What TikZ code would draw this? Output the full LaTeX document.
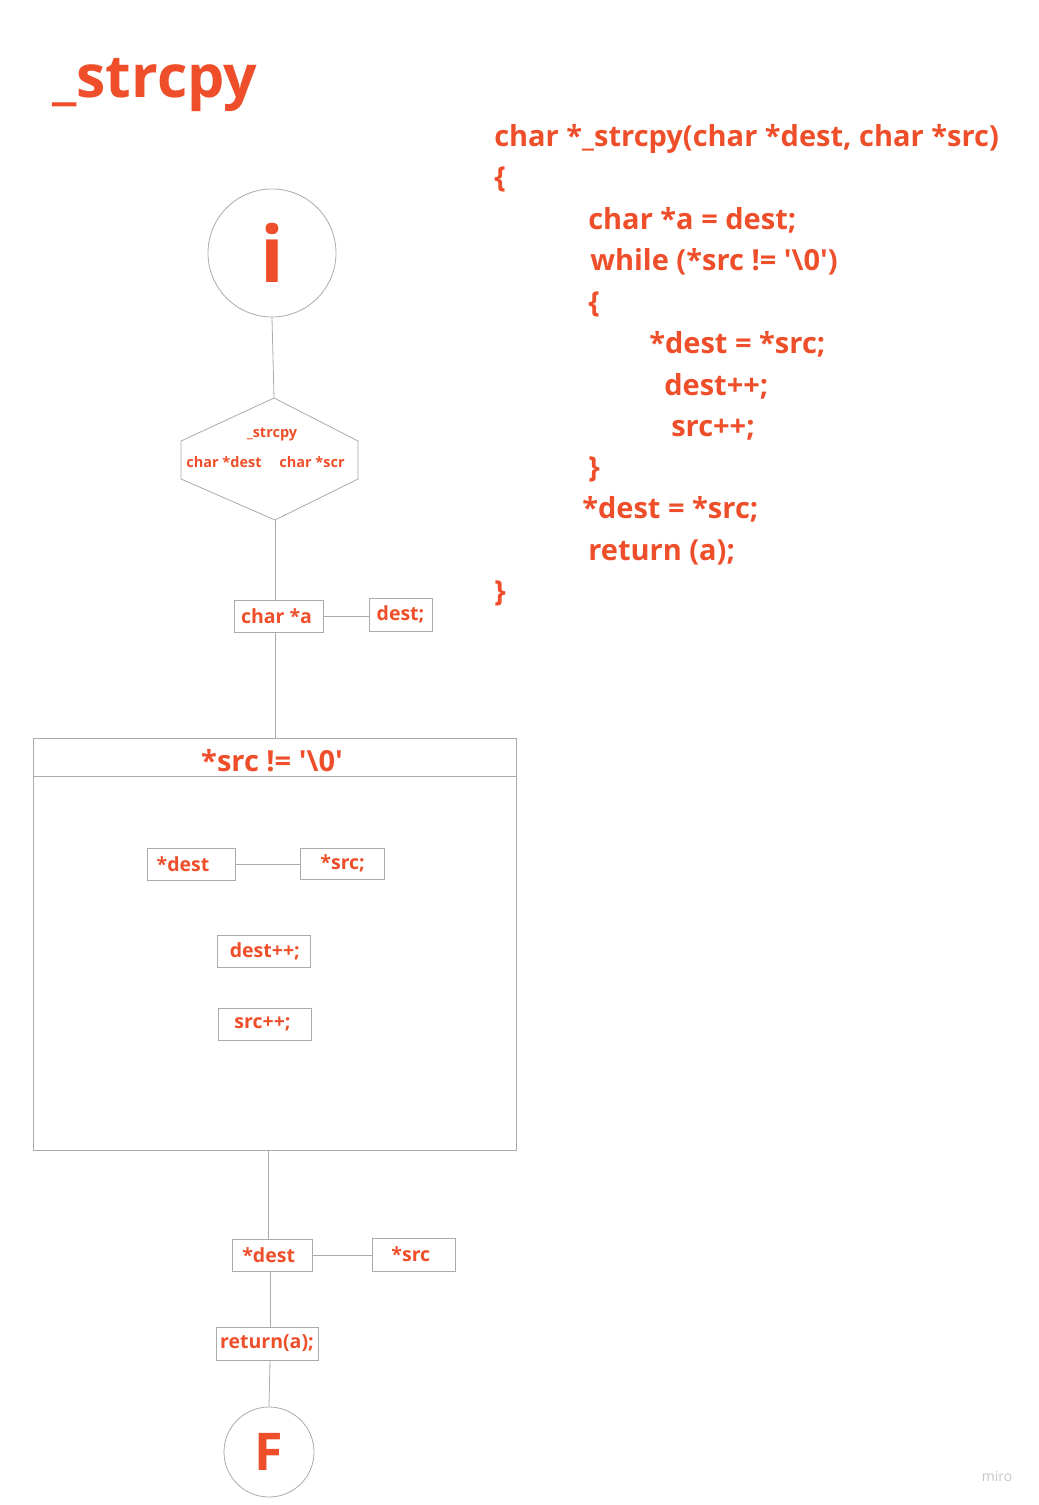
\documentclass[tikz,border=0pt]{standalone}
\usepackage{fontspec}
\setmainfont{Open Sans}
\definecolor{mred}{HTML}{EE4F2A}
\definecolor{mgray}{HTML}{ABABAB}
\newcommand{\pxs}[1]{\fontsize{\fpeval{#1*0.75}pt}{\fpeval{#1*0.9}pt}\selectfont}
\newcommand{\bs}{\textbackslash}
\newcommand{\q}{\textquotesingle}
\newcommand{\gapr}[1]{\hspace{#1}\mbox{}}
\begin{document}
\begin{tikzpicture}[x=0.75pt,y=-0.75pt,
  txt/.style={text=mred,font=\bfseries,inner sep=0pt},
  code/.style={txt,anchor=base west,font=\bfseries\pxs{29}},
  box/.style={draw=mgray,line width=0.6pt,text=mred,font=\bfseries\pxs{19.5},inner sep=0pt},
  circ/.style={draw=mgray,line width=0.6pt,circle,text=mred,font=\bfseries,inner sep=0pt},
  conn/.style={draw=mgray,line width=0.6pt}]
\useasboundingbox[fill=white] (0,0) rectangle (1038,1505);

% title
\node[txt,font=\bfseries\pxs{59},anchor=base west] (title) at (52,98) {\_strcpy};

% code
\node[code] (c1) at (494,147) {char *\_strcpy(char *dest, char *src)};
\node[code] (c2) at (494,188) {\{};
\node[code] (c3) at (588,230) {char *a = dest;};
\node[code] (c4) at (590,271) {while (*src != \q\bs0\q)};
\node[code] (c5) at (588,312) {\{};
\node[code] (c6) at (649,353) {*dest = *src;};
\node[code] (c7) at (664,395) {dest++;};
\node[code] (c8) at (671,436) {src++;};
\node[code] (c9) at (588,477) {\}};
\node[code] (c10) at (582,518) {*dest = *src;};
\node[code] (c11) at (588,560) {return (a);};
\node[code] (c12) at (494,601) {\}};

% start circle
\node[circ,minimum size=96pt,font=\bfseries\pxs{78}] (start) at (272,253) {i};

% hexagon
\coordinate (hexTop) at (274,398);
\coordinate (hexUL) at (181,441);
\coordinate (hexLL) at (181,479);
\coordinate (hexBot) at (275,520);
\coordinate (hexLR) at (358,479);
\coordinate (hexUR) at (358,441);
\draw[conn] (hexTop) -- (hexUL) -- (hexLL) -- (hexBot) -- (hexLR) -- (hexUR) -- cycle;
\node[txt,font=\bfseries\pxs{14.5}] (hname) at (272,434) {\_strcpy};
\node[txt,font=\bfseries\pxs{14.5}] (harg1) at (224,462) {char *dest};
\node[txt,font=\bfseries\pxs{14.5}] (harg2) at (312,462) {char *scr};

% char *a
\node[box,minimum width=66.75pt,minimum height=24pt] (chara) at (278.5,616) {char *a\gapr{3pt}};
\node[box,minimum width=47.25pt,minimum height=24.75pt] (desta) at (400.5,614.5) {dest;};

% loop box
\node[draw=mgray,line width=0.6pt,minimum width=362.25pt,minimum height=309pt,inner sep=0pt] (loop) at (274.5,944) {};
\coordinate (divL) at (33,776);
\coordinate (divR) at (516,776);
\draw[conn] (divL) -- (divR);
\node[txt,font=\bfseries\pxs{29}] (cond) at (272,761) {*src != \q\bs0\q};

\node[box,minimum width=66pt,minimum height=24pt] (ldest) at (191,864) {*dest\gapr{12pt}};
\node[box,minimum width=63pt,minimum height=23.25pt] (lsrc) at (342,863.5) {\mbox{}\hspace{1pt}*src;};
\node[box,minimum width=69.75pt,minimum height=24pt] (linc1) at (263.5,951) {\mbox{}\hspace{2pt}dest++;};
\node[box,minimum width=69.75pt,minimum height=24pt] (linc2) at (264.5,1024) {src++;\gapr{3pt}};

% after loop
\node[box,minimum width=60pt,minimum height=24pt] (bdest) at (272,1255) {*dest\gapr{5pt}};
\node[box,minimum width=62.25pt,minimum height=24.75pt] (bsrc) at (413.5,1254.5) {*src\gapr{4pt}};
\node[box,minimum width=76.5pt,minimum height=24.75pt] (ret) at (267,1343.5) {return(a);};

% end circle
\node[circ,minimum size=67.5pt,font=\bfseries\pxs{52}] (fin) at (269,1452) {F};

% watermark
\node[text=black!22,font=\pxs{14},inner sep=0pt] (miro) at (997,1476) {miro};

% connectors
\draw[conn] (start.south) -- (hexTop);
\draw[conn] (hexBot) -- (hexBot |- chara.north);
\draw[conn] (chara.east) -- (desta.west |- chara.east);
\draw[conn] (chara.south -| hexBot) -- (hexBot |- loop.north);
\draw[conn] (ldest.east) -- (lsrc.west |- ldest.east);
\draw[conn] (bdest.north -| 268,0) -- (268,0 |- loop.south);
\draw[conn] (bdest.east) -- (bsrc.west |- bdest.east);
\draw[conn] (bdest.south -| 270,0) -- (270,0 |- ret.north);
\draw[conn] (ret.south -| 270,0) -- (fin.north);
\end{tikzpicture}
\end{document}
